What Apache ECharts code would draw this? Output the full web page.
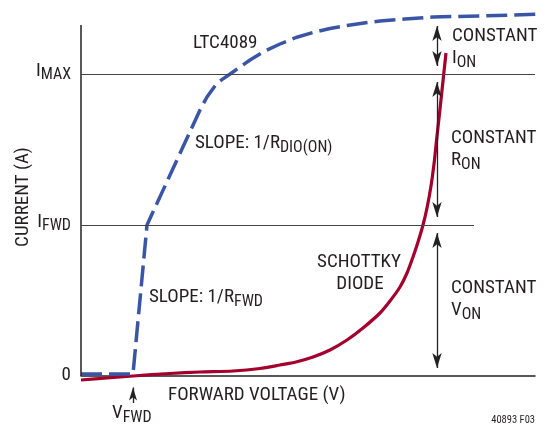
<!DOCTYPE html>
<html>
<head>
<meta charset="utf-8">
<script src="https://cdn.jsdelivr.net/npm/echarts@6/dist/echarts.min.js"></script>
<style>
html,body{margin:0;padding:0;background:#fff;}
#main{width:558px;height:425px;}
</style>
</head>
<body>
<div id="main"></div>
<script>
// ---- Data (arbitrary units) ----
const ltcX = [0, 52, 66, 119, 126, 136, 152, 159, 169, 184, 199, 215, 232, 249, 266, 283, 299, 324, 352, 399, 464, 477];
const ltcY = [2, 2, 151, 266, 279, 293, 304, 309, 316, 325, 332, 338.5, 343.5, 347.5, 350.5, 353, 355, 357, 359, 360, 362, 362];
const diodeX = [0, 26, 52, 89, 119, 152, 179, 199, 215, 232, 249, 266, 282, 299, 309, 319, 326, 332, 337, 342, 346, 350, 353, 356, 359, 362, 365];
const diodeY = [-4, -2, 0, 2.5, 4, 5, 7.5, 11, 14, 19, 26, 36, 48, 63, 75, 89, 103, 119, 134, 151, 168, 190, 212, 240, 267, 295, 323];
const yTickValues = [0, 151, 302];
const yTickMain = ['0', 'I', 'I'];
const yTickSub = ['', 'FWD', 'MAX'];
const vFwd = 52;
const xEnd = 454;
const iFwdLineEnd = 393;
const yAxisTop = 351;
const arrowX = 356;

const FAMILY = "'Liberation Sans Narrow','Arial Narrow','Roboto Condensed','Liberation Sans',sans-serif";
const TXT = '#231f20';
const BLUE = '#3a55a5';
const RED = '#a3002e';

const chart = echarts.init(document.getElementById('main'), null, {renderer: 'canvas'});
const zip = (xs, ys) => xs.map((x, i) => [x, ys[i]]);

const ctx = document.createElement('canvas').getContext('2d');
function measure(t, size) { ctx.font = size + 'px ' + FAMILY; return ctx.measureText(t).width; }
function txt(t, x, baseline, size, align) {
  return {type: 'text', x: x, y: baseline - 0.35 * size, silent: true,
    style: {text: t, font: size + 'px ' + FAMILY, fill: TXT, textAlign: align || 'left', align: align || 'left',
      textVerticalAlign: 'middle', verticalAlign: 'middle'}};
}
function subText(main, sub, x, baseline, align, mSize, sSize) {
  mSize = mSize || 19; sSize = sSize || 16;
  const w1 = measure(main, mSize), w2 = sub ? measure(sub, sSize) : 0;
  let left = x;
  if (align === 'right') left = x - w1 - w2;
  else if (align === 'center') left = x - (w1 + w2) / 2;
  const els = [txt(main, left, baseline, mSize, 'left')];
  if (sub) els.push(txt(sub, left + w1, baseline + 3.5, sSize, 'left'));
  return els;
}

function arrow(x, y1, y2) {
  return [
    {coord: [x, y1], symbol: 'arrow', symbolSize: [7, 15]},
    {coord: [x, y2], symbol: 'arrow', symbolSize: [7, 15]}
  ];
}

const option = {
  animation: false,
  backgroundColor: '#fff',
  grid: {left: 81, right: 23, top: 10, bottom: 19},
  xAxis: {type: 'value', min: 0, max: xEnd,
    axisLine: {show: true, onZero: true, lineStyle: {color: '#222', width: 1.5}},
    axisTick: {show: false}, axisLabel: {show: false}, splitLine: {show: false}},
  yAxis: {type: 'value', min: -30, max: 366,
    axisLine: {show: false}, axisTick: {show: false}, axisLabel: {show: false}, splitLine: {show: false}},
  series: [
    {
      name: 'annot', type: 'line', data: [], silent: true, z: 1,
      markLine: {
        silent: true, animation: false, symbol: 'none',
        label: {show: false},
        lineStyle: {color: '#222', width: 1.3, type: 'solid'},
        data: [
          [{coord: [0, 0], symbol: 'none'}, {coord: [0, yAxisTop], symbol: 'none', lineStyle: {color: '#222', width: 1.5}}],
          [{coord: [0, yTickValues[2]], symbol: 'none'}, {coord: [xEnd, yTickValues[2]], symbol: 'none', lineStyle: {color: '#444', width: 1}}],
          [{coord: [0, yTickValues[1]], symbol: 'none'}, {coord: [iFwdLineEnd, yTickValues[1]], symbol: 'none', lineStyle: {color: '#444', width: 1}}],
          arrow(arrowX, 350, 310),
          arrow(arrowX, 294, 159),
          arrow(arrowX, 143, 8),
          [{coord: [vFwd, -27], symbol: 'none'}, {coord: [vFwd, -11.5], symbol: 'arrow', symbolSize: [6, 13]}]
        ]
      }
    },
    {
      name: 'Schottky diode', type: 'line', data: zip(diodeX, diodeY), smooth: 0.25,
      showSymbol: false, clip: false, z: 3,
      lineStyle: {color: RED, width: 3.2}
    },
    {
      name: 'LTC4089', type: 'line', data: zip(ltcX, ltcY), smooth: false,
      showSymbol: false, clip: false, z: 4,
      lineStyle: {color: BLUE, width: 3.5, type: [21, 7], cap: 'butt'}
    }
  ]
};
chart.setOption(option);

const g = [];
yTickValues.forEach((v, i) => {
  const py = chart.convertToPixel({gridIndex: 0}, [0, v])[1];
  const base = (i === 0 ? py + 6 : py + 3.5);
  g.push(...subText(yTickMain[i], yTickSub[i], 71, base, 'right'));
});
g.push(txt('LTC4089', 193, 50, 19));
g.push(...subText('SLOPE: 1/R', 'DIO(ON)', 195, 150, 'left'));
g.push(...subText('SLOPE: 1/R', 'FWD', 149, 304, 'left'));
g.push(txt('SCHOTTKY', 359, 269, 19, 'center'));
g.push(txt('DIODE', 360, 291, 19, 'center'));
g.push(txt('CONSTANT', 452, 43, 19));
g.push(...subText('I', 'ON', 452, 65, 'left'));
g.push(txt('CONSTANT', 451, 145, 19));
g.push(...subText('R', 'ON', 451, 167, 'left'));
g.push(txt('CONSTANT', 451, 295, 19));
g.push(...subText('V', 'ON', 451, 317, 'left'));
g.push(txt('FORWARD VOLTAGE (V)', 168, 402, 19));
g.push(...subText('V', 'FWD', 112, 420, 'left'));
g.push(txt('40893 F03', 535, 424, 10.5, 'right'));
g.push({type: 'text', x: 23, y: 197, rotation: Math.PI / 2, silent: true,
  style: {text: 'CURRENT (A)', font: '19px ' + FAMILY, fill: TXT, textAlign: 'center', align: 'center',
    textVerticalAlign: 'middle', verticalAlign: 'middle'}});
chart.setOption({graphic: {elements: g}});
</script>
</body>
</html>
